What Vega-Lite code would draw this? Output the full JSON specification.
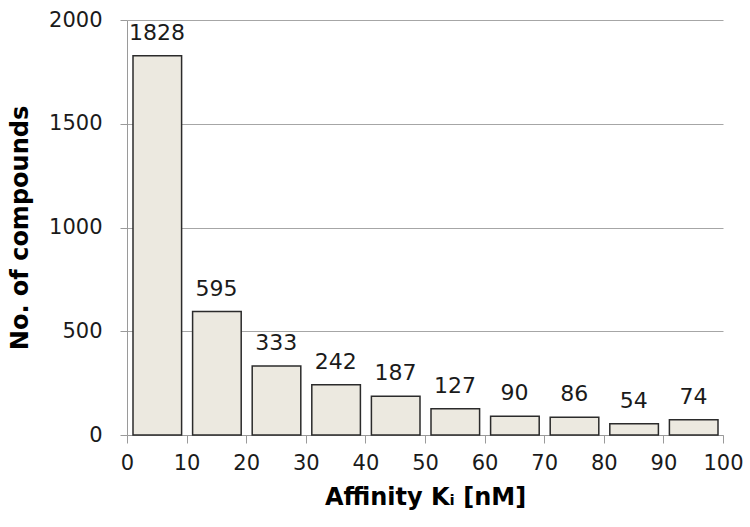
{
  "$schema": "https://vega.github.io/schema/vega-lite/v6.json",
  "width": 596,
  "height": 415,
  "autosize": "none",
  "padding": {"left": 127, "top": 20, "right": 27, "bottom": 92},
  "background": "white",
  "config": {
    "view": {"stroke": null},
    "font": "DejaVu Sans",
    "axis": {
      "labelFont": "DejaVu Sans",
      "titleFont": "DejaVu Sans",
      "labelColor": "#1a1a1a",
      "titleColor": "#000000",
      "domainColor": "#9a9a9a",
      "tickColor": "#9a9a9a",
      "gridColor": "#a6a6a6",
      "labelFontSize": 21,
      "titleFontSize": 24,
      "titleFontWeight": "bold"
    }
  },
  "data": {
    "values": [
      {"start": 0, "end": 10, "count": 1828},
      {"start": 10, "end": 20, "count": 595},
      {"start": 20, "end": 30, "count": 333},
      {"start": 30, "end": 40, "count": 242},
      {"start": 40, "end": 50, "count": 187},
      {"start": 50, "end": 60, "count": 127},
      {"start": 60, "end": 70, "count": 90},
      {"start": 70, "end": 80, "count": 86},
      {"start": 80, "end": 90, "count": 54},
      {"start": 90, "end": 100, "count": 74}
    ]
  },
  "encoding": {
    "x": {
      "field": "start",
      "bin": {"binned": true, "step": 10},
      "type": "quantitative",
      "scale": {"domain": [0, 100], "nice": false},
      "axis": {
        "title": "Affinity Kᵢ [nM]",
        "values": [0, 10, 20, 30, 40, 50, 60, 70, 80, 90, 100],
        "tickSize": 8,
        "labelPadding": 9,
        "titlePadding": 12,
        "grid": false,
        "labelFlush": false
      }
    },
    "y": {
      "field": "count",
      "type": "quantitative",
      "scale": {"domain": [0, 2000], "nice": false},
      "axis": {
        "title": "No. of compounds",
        "format": "d",
        "values": [0, 500, 1000, 1500, 2000],
        "tickSize": 7,
        "labelPadding": 18,
        "titlePadding": 16,
        "grid": true
      }
    }
  },
  "layer": [
    {
      "mark": {"type": "bar", "binSpacing": 11, "fill": "#ECE9E0", "stroke": "#2b2b2b", "strokeWidth": 1.5},
      "encoding": {"x2": {"field": "end"}}
    },
    {
      "mark": {"type": "text", "baseline": "alphabetic", "dx": 30, "dy": -16, "fontSize": 22, "font": "DejaVu Sans", "color": "#1a1a1a"},
      "encoding": {
        "text": {"field": "count", "type": "quantitative"}
      }
    }
  ]
}
